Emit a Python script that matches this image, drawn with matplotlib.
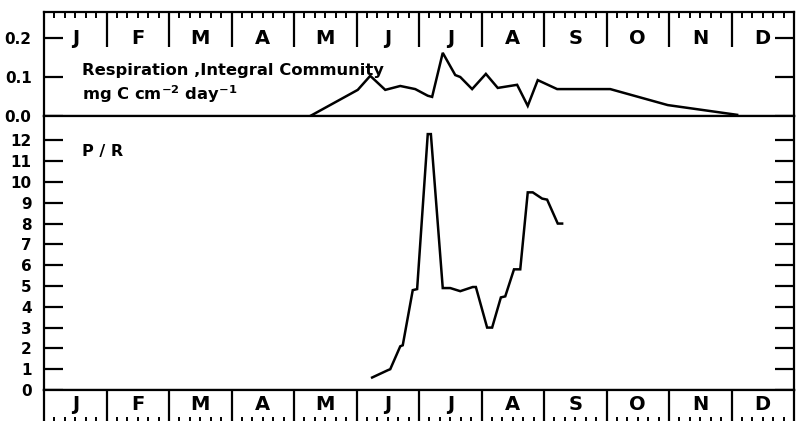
import numpy as np
import matplotlib
matplotlib.use("Agg")
import matplotlib.pyplot as plt
from matplotlib.transforms import blended_transform_factory

plt.rcParams["font.family"] = ["DejaVu Sans"]
plt.rcParams["font.weight"] = "bold"
plt.rcParams["mathtext.fontset"] = "dejavusans"

# Month initials along the seasonal axis (x measured in months from 1 January)
months = ["J", "F", "M", "A", "M", "J", "J", "A", "S", "O", "N", "D"]

# Respiration of the integral community, mg C cm^-2 day^-1
resp_t = [4.26, 5.02, 5.22, 5.46, 5.70, 5.94, 6.14, 6.21, 6.38, 6.58, 6.66,
          6.85, 7.07, 7.26, 7.57, 7.74, 7.90, 8.21, 9.06, 9.98, 11.09]
resp_v = [0.000, 0.067, 0.103, 0.067, 0.077, 0.069, 0.052, 0.049, 0.162, 0.105,
          0.100, 0.069, 0.108, 0.072, 0.080, 0.026, 0.092, 0.069, 0.069, 0.028,
          0.003]

# Production / respiration ratio
pr_t = [5.25, 5.50, 5.54, 5.70, 5.74, 5.90, 5.97, 6.14, 6.19, 6.38, 6.50, 6.66,
        6.86, 6.91, 7.09, 7.17, 7.31, 7.38, 7.52, 7.62, 7.74, 7.82, 7.97, 8.05,
        8.22, 8.29]
pr_v = [0.6, 0.95, 1.0, 2.1, 2.15, 4.8, 4.85, 12.3, 12.3, 4.9, 4.9, 4.75,
        4.95, 4.95, 3.0, 3.0, 4.45, 4.5, 5.8, 5.8, 9.5, 9.5, 9.2, 9.15,
        8.0, 8.0]

resp_ticks = [0.0, 0.1, 0.2]
pr_ticks = list(range(0, 13))

W, H = 799, 421
fig = plt.figure(figsize=(W / 100, H / 100), dpi=100)

left_px, right_px = 44, 794
top_px, mid_px, bot_px = 12, 116, 390


def frame(y0, y1):
    return [left_px / W, 1 - y1 / H, (right_px - left_px) / W, (y1 - y0) / H]


ax_r = fig.add_axes(frame(top_px, mid_px))
ax_p = fig.add_axes(frame(mid_px, bot_px))
ax_m = fig.add_axes(frame(bot_px, 425))

lw_frame = 1.6
for ax in (ax_r, ax_p, ax_m):
    ax.set_xlim(0, 12)
    for s in ax.spines.values():
        s.set_linewidth(lw_frame)

# --- respiration panel with the upper month strip ---
ax_r.plot(resp_t, resp_v, color="black", lw=1.8, solid_joinstyle="miter")
ax_r.set_ylim(0, 0.2667)
ax_r.set_yticks(resp_ticks)
ax_r.set_yticklabels([f"{v:.1f}" for v in resp_ticks])
ax_r.tick_params(axis="y", direction="in", length=14, width=lw_frame,
                 left=True, right=True, pad=9, labelsize=11)
ax_r.set_xticks(np.arange(1, 12))
ax_r.set_xticks(np.arange(0, 12, 1 / 6), minor=True)
ax_r.tick_params(axis="x", which="major", direction="in", top=True,
                 bottom=False, length=25, width=lw_frame, labeltop=False,
                 labelbottom=False)
ax_r.tick_params(axis="x", which="minor", direction="in", top=True,
                 bottom=False, length=4.5, width=1.4)
tr = blended_transform_factory(ax_r.transData, ax_r.transAxes)
for i, m in enumerate(months):
    ax_r.text(i + 0.5, 0.75, m, transform=tr, ha="center", va="center",
              fontsize=14, fontweight="bold")
ax_r.text(0.61, 0.395, "Respiration ,Integral Community", transform=tr,
          fontsize=11.8, va="baseline", fontweight="bold")
ax_r.text(0.61, 0.155, r"mg C cm$^{\mathbf{-2}}$ day$^{\mathbf{-1}}$",
          transform=tr, fontsize=11.8, va="baseline", fontweight="bold")

# --- P/R panel ---
ax_p.plot(pr_t, pr_v, color="black", lw=1.8, solid_joinstyle="miter")
ax_p.set_ylim(0, 13.17)
ax_p.set_yticks(pr_ticks)
ax_p.set_yticklabels([str(v) for v in pr_ticks])
ax_p.tick_params(axis="y", direction="in", length=14, width=lw_frame,
                 left=True, right=True, pad=9, labelsize=11)
ax_p.set_xticks([])
trp = blended_transform_factory(ax_p.transData, ax_p.transAxes)
ax_p.text(0.61, 0.855, "P / R", transform=trp, fontsize=11.5, va="baseline",
          fontweight="bold")

# --- lower month strip ---
ax_m.set_ylim(0, 1)
ax_m.set_yticks([])
ax_m.set_xticks(np.arange(0, 12, 1 / 6), minor=True)
ax_m.set_xticks([])
ax_m.tick_params(axis="x", which="minor", direction="in", bottom=True,
                 length=6, width=1.4)
for b in range(1, 12):
    ax_m.axvline(b, color="black", lw=lw_frame)
trm = blended_transform_factory(ax_m.transData, ax_m.transAxes)
for i, m in enumerate(months):
    ax_m.text(i + 0.5, 0.58, m, transform=trm, ha="center", va="center",
              fontsize=14, fontweight="bold")

fig.savefig("out.png", dpi=100)
